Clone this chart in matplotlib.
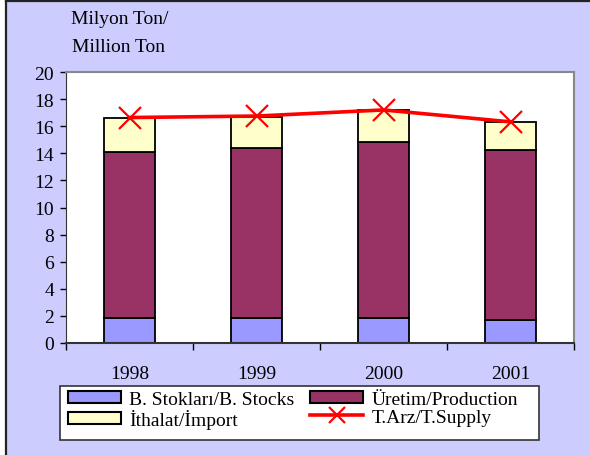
import matplotlib.pyplot as plt
import numpy as np
from matplotlib.patches import Rectangle
from matplotlib.lines import Line2D

years = ["1998", "1999", "2000", "2001"]
stocks = [1.87, 1.85, 1.82, 1.70]
production = [12.23, 12.54, 13.04, 12.56]
imports = [2.52, 2.27, 2.36, 2.07]
supply = [16.64, 16.75, 17.2, 16.32]

y_ticks = list(range(0, 21, 2))

BG = "#CCCCFF"
C_STOCK = "#9999FF"
C_PROD = "#993366"
C_IMP = "#FFFFCC"

plt.rcParams['font.family'] = ['Liberation Serif', 'DejaVu Serif']

fig = plt.figure(figsize=(5.9, 4.56), dpi=100, facecolor="white")

# lavender panel with dark edge on left and top (image is cropped on right/bottom)
fig.patches.append(Rectangle((6 / 590, 0), 1, 1 - 2 / 456, transform=fig.transFigure,
                             facecolor=BG, edgecolor="none", zorder=-10))
fig.lines.append(Line2D([6 / 590, 6 / 590], [0, 1 - 2 / 456], transform=fig.transFigure,
                        color="#222222", linewidth=1.6, zorder=-5))
fig.lines.append(Line2D([6 / 590, 1], [1 - 2 / 456, 1 - 2 / 456], transform=fig.transFigure,
                        color="#222222", linewidth=1.6, zorder=-5))

ax = fig.add_axes([66 / 590, 1 - 344 / 456, 508 / 590, 271 / 456])
ax.set_facecolor("white")

x = np.arange(len(years))
w = 0.4
bottom2 = np.array(stocks) + np.array(production)
ax.bar(x, stocks, w, color=C_STOCK, edgecolor="black", linewidth=1.3, zorder=2)
ax.bar(x, production, w, bottom=stocks, color=C_PROD, edgecolor="black", linewidth=1.3, zorder=2)
ax.bar(x, imports, w, bottom=bottom2, color=C_IMP, edgecolor="black", linewidth=1.3, zorder=2)
ax.plot(x, supply, color="red", linewidth=2.6, marker="x", markersize=16,
        markeredgewidth=1.6, zorder=3)

ax.set_xlim(-0.5, 3.5)
ax.set_ylim(0, 20)
ax.set_yticks(y_ticks)
ax.tick_params(axis="y", direction="out", length=4.5, width=1, pad=4, labelsize=14)
ax.set_xticks(x)
ax.set_xticklabels(years)
ax.tick_params(axis="x", which="major", length=0, pad=16, labelsize=14)
ax.set_xticks(np.arange(-0.5, 4, 1), minor=True)
ax.tick_params(axis="x", which="minor", direction="out", length=5, width=1)

for s in ["top", "right"]:
    ax.spines[s].set_color("#888888")
    ax.spines[s].set_linewidth(1.5)
ax.spines["left"].set_color("#333333")
ax.spines["bottom"].set_color("#333333")
ax.spines["bottom"].set_linewidth(1.5)

fig.text(71 / 590, 1 - 20 / 456, "Milyon Ton/", fontsize=14, va="center", ha="left")
fig.text(72 / 590, 1 - 47 / 456, "Million Ton", fontsize=14, va="center", ha="left")

# legend box
fig.patches.append(Rectangle((60 / 590, 1 - 441 / 456), 479 / 590, 54 / 456,
                             transform=fig.transFigure, facecolor="white",
                             edgecolor="#333333", linewidth=1.2, zorder=1))

handles = [
    Rectangle((0, 0), 1, 1, facecolor=C_STOCK, edgecolor="black", linewidth=1.5),
    Rectangle((0, 0), 1, 1, facecolor=C_IMP, edgecolor="black", linewidth=1.5),
    Rectangle((0, 0), 1, 1, facecolor=C_PROD, edgecolor="black", linewidth=1.5),
    Line2D([], [], color="red", linewidth=2.6, marker="x", markersize=12, markeredgewidth=1.6),
]
labels = ["B. Stokları/B. Stocks", "İthalat/İmport", "Üretim/Production", "T.Arz/T.Supply"]
fig.legend(handles, labels, loc="upper left", bbox_to_anchor=(64 / 590, 1 - 388 / 456),
           ncol=2, frameon=False, fontsize=14, handlelength=2.75, handleheight=0.55,
           handletextpad=0.4, columnspacing=0.8, labelspacing=0.05, borderpad=0.2,
           borderaxespad=0)

fig.savefig("out.png", dpi=100, facecolor="white")
